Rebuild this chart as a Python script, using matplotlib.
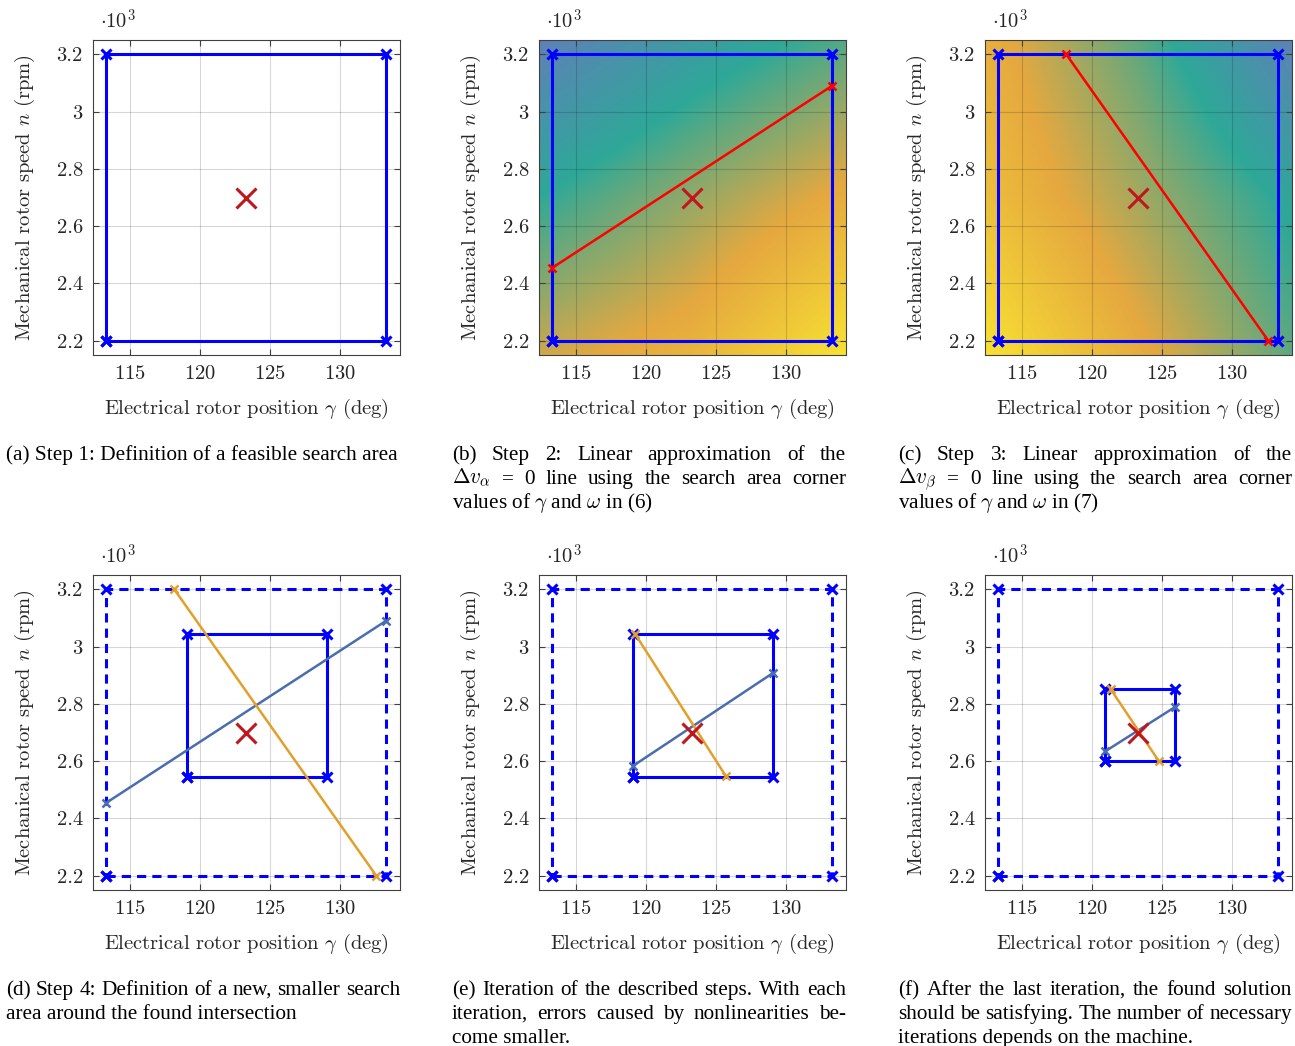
"""Six-step sketch of the grid search for the rotor position and speed."""

import matplotlib
matplotlib.use("Agg")
import matplotlib.pyplot as plt
from matplotlib.colors import LinearSegmentedColormap
from matplotlib.ticker import FixedLocator, FuncFormatter

plt.rcParams.update({
    "font.family": "serif",
    "font.serif": ["cmr10"],
    "mathtext.fontset": "cm",
    "axes.formatter.use_mathtext": True,
    "font.size": 14.8,
    "axes.unicode_minus": False,
})

# axis ranges and ticks
gamma_lim = (112.3, 134.3)
n_lim = (2150, 3250)
gamma_ticks = [115, 120, 125, 130]
n_ticks = [2200, 2400, 2600, 2800, 3000, 3200]

# true operating point
solution_gamma = 123.3
solution_n = 2700

# search areas (gamma range, n range)
box1_gamma = [113.3, 133.3]
box1_n = [2200, 3200]
box2_gamma = [119.05, 129.05]
box2_n = [2545, 3045]
box3_gamma = [120.93, 125.93]
box3_n = [2601, 2851]

# linear approximations of the zero lines per iteration
alpha1_gamma = [113.3, 133.3]
alpha1_n = [2455, 3090]
beta1_gamma = [118.15, 132.6]
beta1_n = [3200, 2200]
alpha2_gamma = [119.05, 129.05]
alpha2_n = [2583, 2907]
beta2_gamma = [119.2, 125.7]
beta2_n = [3045, 2548]
alpha3_gamma = [120.93, 125.93]
alpha3_n = [2634, 2789]
beta3_gamma = [121.33, 124.76]
beta3_n = [2851, 2601]

# coarse voltage-error maps (rows top to bottom, columns left to right)
field_alpha = [[0.00, 0.22, 0.40],
               [0.33, 0.52, 0.70],
               [0.62, 0.74, 1.00]]
field_beta = [[0.72, 0.42, 0.02],
              [0.80, 0.55, 0.30],
              [1.00, 0.70, 0.42]]

captions = [
    ["(a) Step 1: Definition of a feasible search area"],
    ["(b) Step 2: Linear approximation of the",
     r"$\Delta{}v_{\alpha}$ = 0 line using the search area corner",
     r"values of $\gamma$ and $\omega$ in (6)"],
    ["(c) Step 3: Linear approximation of the",
     r"$\Delta{}v_{\beta}$ = 0 line using the search area corner",
     r"values of $\gamma$ and $\omega$ in (7)"],
    ["(d) Step 4: Definition of a new, smaller search",
     "area around the found intersection"],
    ["(e) Iteration of the described steps. With each",
     "iteration, errors caused by nonlinearities be-",
     "come smaller."],
    ["(f) After the last iteration, the found solution",
     "should be satisfying. The number of necessary",
     "iterations depends on the machine."],
]

BOX_BLUE = "#0000FF"
LINE_RED = "#FF0000"
SOL_RED = "#C0161E"
ALPHA_COL = "#4A6DB0"
BETA_COL = "#E2A02B"
TEXT_COL = "#262626"

cmap = LinearSegmentedColormap.from_list(
    "err", [(0.0, "#6080B8"), (0.33, "#2EA898"), (0.67, "#E5A840"), (1.0, "#F8E232")])

W, H = 1295, 1046
fig = plt.figure(figsize=(W / 100, H / 100), dpi=100)


def px_axes(left, top, width=307.5, height=315):
    return fig.add_axes([left / W, 1 - (top + height) / H, width / W, height / H])


def style_axes(ax):
    ax.set_xlim(*gamma_lim)
    ax.set_ylim(*n_lim)
    ax.xaxis.set_major_locator(FixedLocator(gamma_ticks))
    ax.yaxis.set_major_locator(FixedLocator(n_ticks))
    ax.yaxis.set_major_formatter(FuncFormatter(lambda v, p: f"{v / 1000:g}"))
    ax.grid(True, color="black", alpha=0.16, lw=0.8)
    ax.tick_params(direction="in", top=True, right=True, length=4, width=0.8,
                   color="#404040", labelcolor=TEXT_COL, pad=7, labelsize=14.8)
    for sp in ax.spines.values():
        sp.set_linewidth(0.8)
        sp.set_color("#404040")
    ax.set_xlabel(r"Electrical rotor position $\gamma$ (deg)", fontsize=14.8,
                  color=TEXT_COL, labelpad=10)
    ax.set_ylabel(r"Mechanical rotor speed $n$ (rpm)", fontsize=14.8,
                  color=TEXT_COL, labelpad=14)
    ax.text(0.025, 1.022, r"$\cdot 10^3$", transform=ax.transAxes, fontsize=14.8,
            color=TEXT_COL, va="bottom", ha="left")


def draw_field(ax, field):
    # vertex values sit on the axes corners, so pad the extent by half a cell
    dx = (gamma_lim[1] - gamma_lim[0]) / 2
    dy = (n_lim[1] - n_lim[0]) / 2
    ax.imshow(field, cmap=cmap, vmin=0, vmax=1, aspect="auto",
              interpolation="bilinear", interpolation_stage="data",
              extent=[gamma_lim[0] - dx / 2, gamma_lim[1] + dx / 2,
                      n_lim[0] - dy / 2, n_lim[1] + dy / 2],
              origin="upper", zorder=0)


def draw_box(ax, g, n, ls="-"):
    xs = [g[0], g[1], g[1], g[0], g[0]]
    ys = [n[0], n[0], n[1], n[1], n[0]]
    dash = (0, (3, 2)) if ls == "--" else "-"
    ax.plot(xs, ys, color=BOX_BLUE, lw=2.2, ls=dash, marker="x", ms=7, mew=2.2,
            zorder=3)


def draw_line(ax, g, n, color):
    ax.plot(g, n, color=color, lw=1.8, marker="x", ms=6, mew=1.8, zorder=4)


def draw_solution(ax):
    ax.plot([solution_gamma], [solution_n], ls="none", marker="x", ms=15,
            mew=2.2, color=SOL_RED, zorder=6)


def put_caption(lines, x0, baseline0, width=394, step=24, size=15.3):
    renderer = fig.canvas.get_renderer()
    kw = dict(family="Liberation Serif", math_fontfamily="cm", color="black",
              va="baseline", ha="left")
    # shrink the font if a line would not fit the column
    widest = 0
    for line in lines:
        t = fig.text(0, 0, line, fontsize=size, **kw)
        widest = max(widest, t.get_window_extent(renderer).width)
        t.remove()
    if widest > width:
        size = size * width / widest
    for i, line in enumerate(lines):
        yb = 1 - (baseline0 + i * step) / H
        if i == len(lines) - 1:
            fig.text(x0 / W, yb, line, fontsize=size, **kw)
            continue
        words = line.split(" ")
        texts = [fig.text(0, yb, w, fontsize=size, **kw) for w in words]
        widths = [t.get_window_extent(renderer).width for t in texts]
        gap = (width - sum(widths)) / (len(words) - 1)
        x = x0
        for t, w in zip(texts, widths):
            t.set_x(x / W)
            x += w + gap


col_left = [92.5, 538.5, 984.5]
row_top = [40, 575]
cap_x = [6, 452, 898]
cap_base = [460, 995]

axes = []
for r in range(2):
    for c in range(3):
        ax = px_axes(col_left[c], row_top[r])
        style_axes(ax)
        axes.append(ax)

ax_a, ax_b, ax_c, ax_d, ax_e, ax_f = axes

draw_box(ax_a, box1_gamma, box1_n)
draw_solution(ax_a)

draw_field(ax_b, field_alpha)
draw_box(ax_b, box1_gamma, box1_n)
draw_line(ax_b, alpha1_gamma, alpha1_n, LINE_RED)
draw_solution(ax_b)

draw_field(ax_c, field_beta)
draw_box(ax_c, box1_gamma, box1_n)
draw_line(ax_c, beta1_gamma, beta1_n, LINE_RED)
draw_solution(ax_c)

draw_box(ax_d, box1_gamma, box1_n, "--")
draw_box(ax_d, box2_gamma, box2_n)
draw_line(ax_d, alpha1_gamma, alpha1_n, ALPHA_COL)
draw_line(ax_d, beta1_gamma, beta1_n, BETA_COL)
draw_solution(ax_d)

draw_box(ax_e, box1_gamma, box1_n, "--")
draw_box(ax_e, box2_gamma, box2_n)
draw_line(ax_e, alpha2_gamma, alpha2_n, ALPHA_COL)
draw_line(ax_e, beta2_gamma, beta2_n, BETA_COL)
draw_solution(ax_e)

draw_box(ax_f, box1_gamma, box1_n, "--")
draw_box(ax_f, box3_gamma, box3_n)
draw_line(ax_f, alpha3_gamma, alpha3_n, ALPHA_COL)
draw_line(ax_f, beta3_gamma, beta3_n, BETA_COL)
draw_solution(ax_f)

for i, lines in enumerate(captions):
    put_caption(lines, cap_x[i % 3], cap_base[i // 3])

fig.savefig("out.png", dpi=100)
